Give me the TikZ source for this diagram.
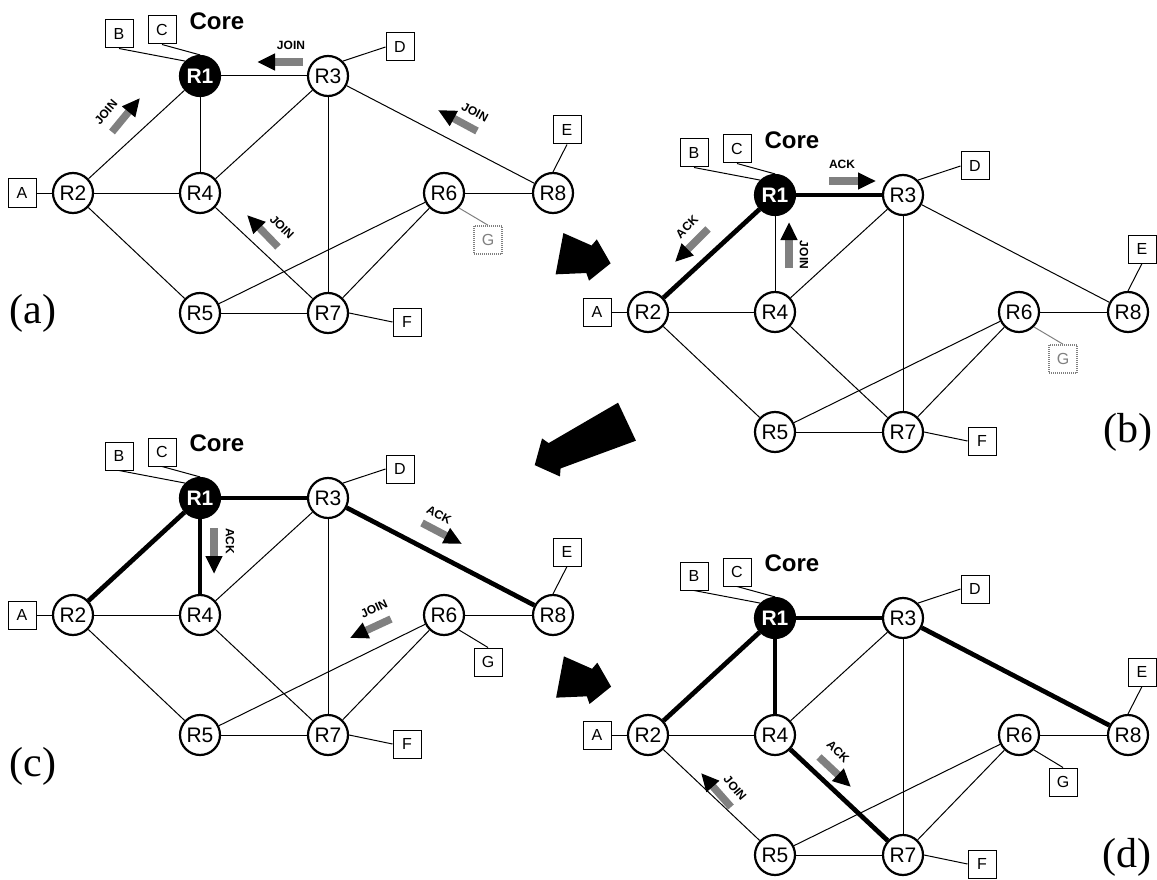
\documentclass[tikz,border=0pt]{standalone}
\usepackage{fontspec}
\setmainfont{Liberation Serif}
\setsansfont{Liberation Sans}
\usetikzlibrary{arrows.meta}

% one copy of the network, #1 = name prefix, #2 = style of G, #3 = colour of the G link
\newcommand{\network}[3]{
\node [core] (#1R1) at (200,76) {R1};
\node [router] (#1R2) at (73,193) {R2};
\node [router] (#1R3) at (328,76) {R3};
\node [router] (#1R4) at (200,193) {R4};
\node [router] (#1R5) at (200,313) {R5};
\node [router] (#1R6) at (444,193) {R6};
\node [router] (#1R7) at (328,313) {R7};
\node [router] (#1R8) at (553,193) {R8};
\node [host] (#1A) at (22,193) {A};
\node [host] (#1B) at (119,34) {B};
\node [host] (#1C) at (162,30) {C};
\node [host] (#1D) at (400,47) {D};
\node [host] (#1E) at (567,130) {E};
\node [host] (#1F) at (407,322) {F};
\node [#2] (#1G) at (488,240) {G};
\node [corelabel] (#1core) at (217,21) {Core};
\draw [link] (#1R1) -- (#1R3);
\draw [link] (#1R1) -- (#1R2);
\draw [link] (#1R1) -- (#1R4);
\draw [link] (#1R2) -- (#1R4);
\draw [link] (#1R2) -- (#1R5);
\draw [link] (#1R3) -- (#1R4);
\draw [link] (#1R3) -- (#1R7);
\draw [link] (#1R3) -- (#1R8);
\draw [link] (#1R4) -- (#1R7);
\draw [link] (#1R5) -- (#1R7);
\draw [link] (#1R5) -- (#1R6);
\draw [link] (#1R6) -- (#1R7);
\draw [link] (#1R6) -- (#1R8);
\draw [link] (#1A) -- (#1R2);
\draw [link] (#1B.south) -- (#1R1.north west);
\draw [link] (#1C.south) -- (#1R1.north);
\draw [link] (#1D.west) -- (#1R3.north east);
\draw [link] (#1E.south) -- (#1R8.north);
\draw [link] (#1F.west) -- (#1R7.east);
\draw [link, draw=#3] (#1G.north) -- (#1R6.south east);
}

% big black arrow between the panels, #1 = tail centre, #2 = angle, #3 = length
\newcommand{\bigarrow}[3]{
\fill [shift={#1}, rotate=#2] (0,-21) -- (#3-22,-14) -- (#3-18,-21) -- (#3,0)
  -- (#3-18,21) -- (#3-22,14) -- (0,21) -- cycle;
}

\begin{document}
\begin{tikzpicture} [x=1pt,y=-1pt,
  router/.style={circle, draw, line width=2.2pt, fill=white, minimum size=40pt,
    inner sep=0pt, font=\sffamily\fontsize{21}{21}\selectfont},
  core/.style={router, fill=black, text=white,
    font=\sffamily\bfseries\fontsize{21}{21}\selectfont},
  host/.style={draw, line width=1pt, fill=white, minimum size=28pt, inner sep=0pt,
    font=\sffamily\fontsize{16}{16}\selectfont},
  faded/.style={host, draw=gray, densely dotted, line width=1.6pt, text=gray},
  link/.style={line width=1pt},
  tree/.style={line width=4.7pt},
  msg/.style={line width=7.5pt, draw=gray,
    -{Triangle[length=18pt, width=16pt, color=black]}},
  msglabel/.style={font=\sffamily\bfseries\fontsize{12}{12}\selectfont, inner sep=0pt},
  corelabel/.style={font=\sffamily\bfseries\fontsize{24}{24}\selectfont, inner sep=0pt},
  panel/.style={font=\fontsize{42}{42}\selectfont, inner sep=0pt}]

\useasboundingbox (0,0) rectangle (1157,880);

%(a)
\network{a}{faded}{gray}
\draw [msg] (112,132) -- (140,98);
\node [msglabel, rotate=50] (aj1) at (106,112) {JOIN};
\draw [msg] (303,62) -- (257,62);
\node [msglabel] (aj2) at (291,45) {JOIN};
\draw [msg] (477,131) -- (438,110);
\node [msglabel, rotate=-28] (aj3) at (475,112) {JOIN};
\draw [msg] (278,247) -- (247,215);
\node [msglabel, rotate=-45] (aj4) at (282,227) {JOIN};
\node [panel] (la) at (33,313) {(a)};

%(b)
\begin{scope}[shift={(575,119)}]
\network{b}{faded}{gray}
\draw [tree] (bR2) -- (bR1);
\draw [tree] (bR1) -- (bR3);
\draw [msg] (254,62) -- (301,62);
\node [msglabel] (ba1) at (267,45) {ACK};
\draw [msg] (133,110) -- (100,143);
\node [msglabel, rotate=45] (ba2) at (112,108) {ACK};
\draw [msg] (214,149) -- (214,103);
\node [msglabel, rotate=-90] (bj1) at (229,136) {JOIN};
\node [panel] (lb) at (553,313) {(b)};
\end{scope}

%(c)
\begin{scope}[shift={(0,422)}]
\network{c}{host}{black}
\draw [tree] (cR2) -- (cR1);
\draw [tree] (cR1) -- (cR3);
\draw [tree] (cR1) -- (cR4);
\draw [tree] (cR3) -- (cR8);
\draw [msg] (214,106) -- (214,152);
\node [msglabel, rotate=-90] (ca1) at (230,119) {ACK};
\draw [msg] (422,101) -- (462,122);
\node [msglabel, rotate=-28] (ca2) at (439,93) {ACK};
\draw [msg] (391,197) -- (350,216);
\node [msglabel, rotate=25] (cj1) at (374,187) {JOIN};
\end{scope}
\node [panel] (lc) at (33,766) {(c)};

%(d)
\begin{scope}[shift={(575,542)}]
\network{d}{host}{black}
\draw [tree] (dR2) -- (dR1);
\draw [tree] (dR1) -- (dR3);
\draw [tree] (dR1) -- (dR4);
\draw [tree] (dR3) -- (dR8);
\draw [tree] (dR4) -- (dR7);
\draw [msg] (244,215) -- (276,245);
\node [msglabel, rotate=-45] (da1) at (263,210) {ACK};
\draw [msg] (156,265) -- (126,231);
\node [msglabel, rotate=-50] (dj1) at (160,246) {JOIN};
\node [panel] (ld) at (552,315) {(d)};
\end{scope}

\bigarrow{(559.5,253.7)}{-10.7}{52}
\bigarrow{(627,421.7)}{205.2}{102}
\bigarrow{(560,677)}{-10.7}{52}

\end{tikzpicture}
\end{document}
